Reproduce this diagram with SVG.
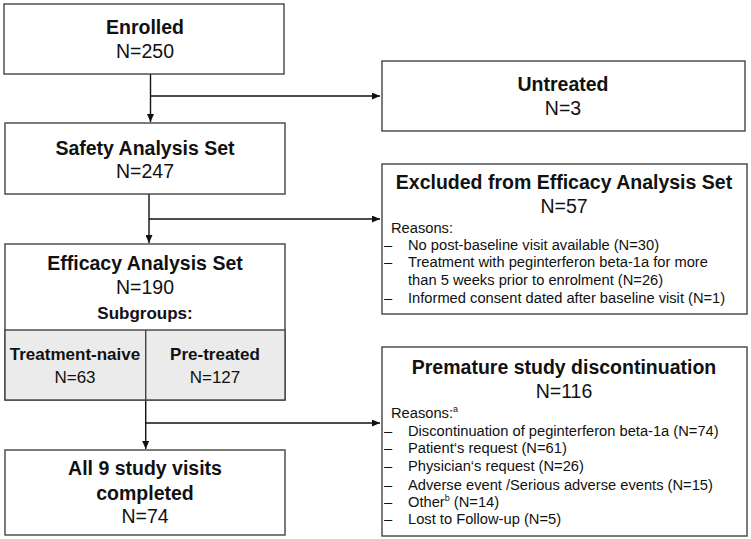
<svg xmlns="http://www.w3.org/2000/svg" width="751" height="539" viewBox="0 0 751 539">
<defs>
<marker id="ah" markerWidth="8" markerHeight="7" refX="8" refY="3.5" orient="auto" markerUnits="userSpaceOnUse">
<path d="M0,0 L8,3.5 L0,7 Z" fill="#111"/>
</marker>
<style>
.box{fill:#fff;stroke:#444;stroke-width:1.4}
.sub{fill:#ebebeb;stroke:#444;stroke-width:1.4}
.t{font-family:"Liberation Sans",Arial,sans-serif;fill:#111}
.h{font-size:19.5px;font-weight:bold;text-anchor:middle}
.n{font-size:19.5px;text-anchor:middle}
.s{font-size:17px;font-weight:bold;text-anchor:middle}
.sn{font-size:17px;text-anchor:middle}
.b{font-size:14.7px}
.ln{fill:none;stroke:#111;stroke-width:1.4}
</style>
</defs>
<rect width="751" height="539" fill="#fff"/>

<g id="connectors">
<path class="ln" d="M150.5,74 V122" marker-end="url(#ah)"/>
<path class="ln" d="M150.5,96 H380" marker-end="url(#ah)"/>
<path class="ln" d="M149,194 V243" marker-end="url(#ah)"/>
<path class="ln" d="M149,219 H380" marker-end="url(#ah)"/>
<path class="ln" d="M145.7,400 V449" marker-end="url(#ah)"/>
<path class="ln" d="M145.7,423 H380" marker-end="url(#ah)"/>
</g>

<g id="enrolled">
<rect class="box" x="4" y="4" width="280" height="70"/>
<text class="t h" x="145" y="34">Enrolled</text>
<text class="t n" x="145" y="58">N=250</text>
</g>

<g id="untreated">
<rect class="box" x="382" y="61" width="363" height="70"/>
<text class="t h" x="563" y="91">Untreated</text>
<text class="t n" x="563" y="115">N=3</text>
</g>

<g id="safety">
<rect class="box" x="5" y="123" width="280" height="71"/>
<text class="t h" x="145" y="155">Safety Analysis Set</text>
<text class="t n" x="145" y="178">N=247</text>
</g>

<g id="excluded">
<rect class="box" x="382" y="164" width="365" height="150"/>
<text class="t h" x="564" y="189">Excluded from Efficacy Analysis Set</text>
<text class="t n" x="564" y="213">N=57</text>
<text class="t b" x="391" y="233">Reasons:</text>
<text class="t b" x="384" y="250">–</text><text class="t b" x="408" y="250">No post-baseline visit available (N=30)</text>
<text class="t b" x="384" y="267">–</text><text class="t b" x="408" y="267">Treatment with peginterferon beta-1a for more</text>
<text class="t b" x="408" y="285">than 5 weeks prior to enrolment (N=26)</text>
<text class="t b" x="384" y="303">–</text><text class="t b" x="408" y="303">Informed consent dated after baseline visit (N=1)</text>
</g>

<g id="efficacy">
<rect class="box" x="5" y="244" width="280" height="156"/>
<rect class="sub" x="5" y="330" width="280" height="70"/>
<line x1="145.7" y1="330" x2="145.7" y2="400" stroke="#444" stroke-width="1.4"/>
<text class="t h" x="145" y="270">Efficacy Analysis Set</text>
<text class="t n" x="145" y="294">N=190</text>
<text class="t s" x="145" y="319">Subgroups:</text>
<text class="t s" x="75" y="360">Treatment-naive</text>
<text class="t sn" x="75" y="383">N=63</text>
<text class="t s" x="215" y="360">Pre-treated</text>
<text class="t sn" x="215" y="383">N=127</text>
</g>

<g id="premature">
<rect class="box" x="382" y="347" width="365" height="189"/>
<text class="t h" x="564" y="374">Premature study discontinuation</text>
<text class="t n" x="564" y="398">N=116</text>
<text class="t b" x="391" y="418">Reasons:<tspan font-size="9" dy="-6">a</tspan></text>
<text class="t b" x="384" y="436">–</text><text class="t b" x="408" y="436">Discontinuation of peginterferon beta-1a (N=74)</text>
<text class="t b" x="384" y="453">–</text><text class="t b" x="408" y="453">Patient‘s request (N=61)</text>
<text class="t b" x="384" y="471">–</text><text class="t b" x="408" y="471">Physician‘s request (N=26)</text>
<text class="t b" x="384" y="490">–</text><text class="t b" x="408" y="490">Adverse event /Serious adverse events (N=15)</text>
<text class="t b" x="384" y="507">–</text><text class="t b" x="408" y="507">Other<tspan font-size="9" dy="-6">b</tspan><tspan dy="6"> (N=14)</tspan></text>
<text class="t b" x="384" y="524">–</text><text class="t b" x="408" y="524">Lost to Follow-up (N=5)</text>
</g>

<g id="completed">
<rect class="box" x="5" y="450" width="280" height="85"/>
<text class="t h" x="145" y="475">All 9 study visits</text>
<text class="t h" x="145" y="500">completed</text>
<text class="t n" x="145" y="523">N=74</text>
</g>
</svg>
